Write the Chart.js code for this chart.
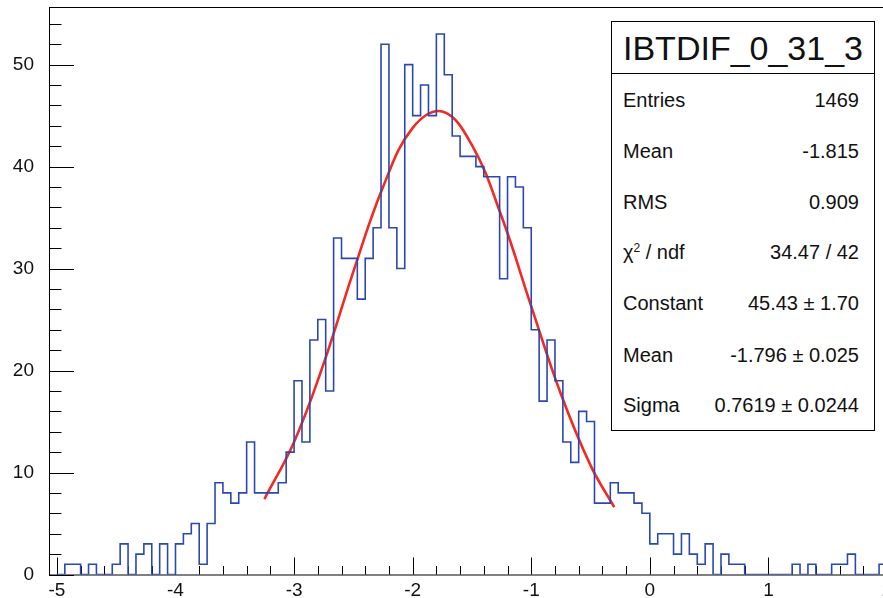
<!DOCTYPE html>
<html>
<head>
<meta charset="utf-8">
<script src="https://cdn.jsdelivr.net/npm/chart.js@4"></script>
<style>
  html, body { margin: 0; padding: 0; background: #fff; overflow: hidden; }
  #wrap { position: relative; width: 883px; height: 598px; overflow: hidden; }
  #c { position: absolute; left: 0; top: 0; }
  .stats { position: absolute; left: 611px; top: 21px; width: 264px; height: 410px; border: 1px solid #000;
           background: #fff; box-sizing: border-box; color: #111;
           font-family: "Liberation Sans", Arial, sans-serif; }
  .stats .title { position: absolute; left: 0; right: 0; top: 0; height: 51px; border-bottom: 1px solid #000;
                  font-size: 34px; line-height: 52px; text-align: center; }
  .stats .row { position: absolute; left: 11px; right: 15px; height: 24px; line-height: 24px; font-size: 20px; }
  .stats .row .v { position: absolute; right: 0; top: 0; }
  .stats sup { font-size: 12px; vertical-align: 7px; line-height: 0; }
</style>
</head>
<body>
<div id="wrap">
  <canvas id="c" width="892" height="598"></canvas>
  <div class="stats" id="stats"></div>
</div>
<script>
// histogram: 1/15-wide bins starting at -5 (counts)
var binStart = -5;
var binWidth = 1 / 15;
var counts = [
  0, 1, 1, 0, 1, 0, 0, 1, 3, 0, 2, 3, 0, 3, 0,
  3, 4, 5, 1, 5, 9, 8, 7, 8, 13, 8, 8, 8, 9, 12,
  19, 13, 23, 25, 18, 33, 31, 31, 27, 31, 34, 52, 34, 30, 50,
  45, 48, 45, 53, 49, 43, 41, 41, 40, 39, 39, 29, 39, 38, 34,
  24, 17, 23, 19, 13, 11, 16, 15, 7, 7, 9, 8, 8, 7, 6,
  3, 4, 4, 2, 4, 2, 1, 3, 0, 2, 1, 1, 0, 0, 0,
  0, 0, 0, 1, 0, 1, 0, 0, 1, 1, 2, 0, 0, 0, 1
];

// gaussian fit curve
var fitX = [-3.25, -3.0, -2.75, -2.5, -2.25, -2.0, -1.75, -1.5, -1.25, -1.0, -0.75, -0.5, -0.3];
var fitY = [7.4, 13.0, 20.7, 29.7, 38.0, 43.8, 45.4, 42.1, 35.1, 26.3, 17.7, 10.7, 6.6];

var xMin = -5 - 1 / 15, xMax = 2;
var yMin = 0, yMax = 55.65;

var statsTitle = 'IBTDIF_0_31_3';
var statsLabels = ['Entries', 'Mean', 'RMS', '\u03c7<sup>2</sup> / ndf', 'Constant', 'Mean', 'Sigma'];
var statsValues = ['1469', '-1.815', '0.909', '34.47 / 42', '45.43 \u00b1 1.70', '-1.796 \u00b1 0.025', '0.7619 \u00b1 0.0244'];

(function () {
  var box = document.getElementById('stats');
  var html = '<div class="title">' + statsTitle + '</div>';
  var tops = [66, 117, 168, 218, 269, 321, 371];
  statsLabels.forEach(function (lab, i) {
    html += '<div class="row" style="top:' + tops[i] + 'px"><span>' + lab + '</span><span class="v">' + statsValues[i] + '</span></div>';
  });
  box.innerHTML = html;
})();

var histPoints = counts.map(function (c, i) { return { x: binStart + i * binWidth, y: c }; });
histPoints.push({ x: binStart + counts.length * binWidth, y: counts[counts.length - 1] });

var fitPoints = fitX.map(function (x, i) { return { x: x, y: fitY[i] }; });

// ROOT style frame with inward ticks
var frameTicks = {
  id: 'frameTicks',
  beforeDatasetsDraw: function (chart) {
    var ctx = chart.ctx, a = chart.chartArea;
    var xs = chart.scales.x, ys = chart.scales.y;
    ctx.save();
    ctx.strokeStyle = '#000';
    ctx.lineWidth = 1;
    ctx.strokeRect(a.left + 0.5, a.top + 0.5, a.right - a.left, a.bottom - a.top);
    ctx.beginPath();
    for (var k = -25; k <= 10; k++) {
      var px = Math.round(xs.getPixelForValue(k * 0.2)) + 0.5;
      var len = (k % 5 === 0) ? 17 : 8.5;
      ctx.moveTo(px, a.bottom);
      ctx.lineTo(px, a.bottom - len);
    }
    for (var j = 0; j * 2 <= yMax; j++) {
      var py = Math.round(ys.getPixelForValue(j * 2)) + 0.5;
      var l2 = (j % 5 === 0) ? 25 : 12.5;
      ctx.moveTo(a.left, py);
      ctx.lineTo(a.left + l2, py);
    }
    ctx.stroke();
    ctx.restore();
  }
};

var font = { family: "'Liberation Sans', Arial, sans-serif", size: 19 };

new Chart(document.getElementById('c'), {
  type: 'line',
  data: {
    datasets: [
      { data: histPoints, stepped: 'before', borderColor: '#2a48b4', borderWidth: 1.6, pointRadius: 0, fill: false },
      { data: fitPoints, borderColor: '#f22a22', borderWidth: 2.6, pointRadius: 0, fill: false, tension: 0.4 }
    ]
  },
  options: {
    responsive: false,
    animation: false,
    layout: { padding: { top: 7, right: 5, left: 0, bottom: 0 } },
    plugins: { legend: { display: false }, tooltip: { enabled: false } },
    scales: {
      x: {
        type: 'linear', min: xMin, max: xMax,
        grid: { display: false }, border: { display: false },
        ticks: { stepSize: 1, includeBounds: false, autoSkip: false, maxRotation: 0, padding: -3, color: '#111', font: font },
        afterFit: function (s) { s.height = 23.5; s.paddingLeft = 0; s.paddingRight = 0; }
      },
      y: {
        min: yMin, max: yMax,
        grid: { display: false }, border: { display: false },
        ticks: { stepSize: 10, includeBounds: false, padding: 7, color: '#111', font: font },
        afterFit: function (s) { s.width = 49; s.paddingTop = 0; s.paddingBottom = 0; }
      }
    }
  },
  plugins: [frameTicks]
});
</script>
</body>
</html>
